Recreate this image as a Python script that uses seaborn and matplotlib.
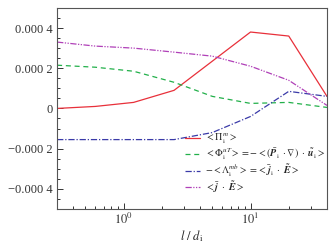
import numpy as np
import pandas as pd
import seaborn as sns
import matplotlib.pyplot as plt
from matplotlib.ticker import MultipleLocator, FixedLocator, FixedFormatter, LogLocator, NullFormatter

# scale l / d_i
scale = [0.3, 0.6, 1.2, 2.5, 5, 10, 20, 40]

# the four curves
pi_mm = [0.0, 1.0e-5, 3.0e-5, 9.0e-5, 2.35e-4, 3.8e-4, 3.6e-4, 6.0e-5]
phi_ut = [2.15e-4, 2.05e-4, 1.85e-4, 1.3e-4, 6.0e-5, 2.5e-5, 3.0e-5, 5.0e-6]
lam_mb = [-1.55e-4, -1.55e-4, -1.55e-4, -1.55e-4, -1.2e-4, -4.0e-5, 8.5e-5, 6.0e-5]
j_dot_e = [3.3e-4, 3.1e-4, 3.0e-4, 2.8e-4, 2.6e-4, 2.1e-4, 1.4e-4, 1.5e-5]

labels = [
    r'$<\Pi_{\rm i}^{m}>$',
    r'$<\Phi_{\rm i}^{uT}>=-<(\bar{\boldsymbol{P}}_{\rm i}\ \cdot\nabla)\ \cdot\ \tilde{\boldsymbol{u}}_{\rm i}>$',
    r'$-<\Lambda_{\rm i}^{mb}>=<\bar{\boldsymbol{j}}_{\rm i}\ \cdot\ \tilde{\boldsymbol{E}}>$',
    r'$<\bar{\boldsymbol{j}}\ \cdot\ \tilde{\boldsymbol{E}}>$',
]

ytick_vals = [-0.0004, -0.0002, 0, 0.0002, 0.0004]
ytick_labels = ['\u22120.000 4', '\u22120.000 2', '0', '0.000 2', '0.000 4']

sns.set_style('ticks')
plt.rcParams['font.family'] = ['Liberation Serif', 'DejaVu Serif']
plt.rcParams['mathtext.fontset'] = 'stix'

fig = plt.figure(figsize=(3.34, 2.47), dpi=100)
ax = fig.add_axes([0.171, 0.154, 0.808, 0.814])

series = [
    (pi_mm, '#e8303a', '-', 0.9),
    (phi_ut, '#22b04a', (0, (4, 3)), 0.9),
    (lam_mb, '#3a3aa8', (0, (5, 1.5, 1, 1.5)), 0.9),
    (j_dot_e, '#b040b8', (0, (5, 1.2, 1, 1.2, 1, 1.2)), 0.9),
]
for (vals, col, ls, lw), lab in zip(series, labels):
    sns.lineplot(x=scale, y=vals, ax=ax, color=col, linestyle=ls, linewidth=lw, label=lab)

ax.set_xscale('log')
ax.set_xlim(0.3, 40)
ax.set_ylim(-0.0005, 0.0005)

ax.yaxis.set_major_locator(FixedLocator(ytick_vals))
ax.yaxis.set_major_formatter(FixedFormatter(ytick_labels))
ax.yaxis.set_minor_locator(MultipleLocator(0.00005))
ax.xaxis.set_major_locator(FixedLocator([1, 10]))
ax.xaxis.set_major_formatter(FixedFormatter([r'$10^0$', r'$10^1$']))
ax.xaxis.set_minor_locator(LogLocator(base=10, subs=np.arange(2, 10)))
ax.xaxis.set_minor_formatter(NullFormatter())

ax.tick_params(which='both', direction='in', top=False, right=False, labelsize=9, colors='#333333', width=0.7)
ax.tick_params(which='major', length=4)
ax.tick_params(which='minor', length=2.5)
ax.tick_params(axis='x', which='major', pad=2)
for sp in ax.spines.values():
    sp.set_color('#555555')
    sp.set_linewidth(0.8)

ax.set_xlabel(r'$l\ /\ d_{\rm i}$', fontsize=9, labelpad=1)
ax.set_ylabel('')

leg = ax.legend(loc='lower right', bbox_to_anchor=(1.01, 0.05), frameon=False, fontsize=7.2,
                handlelength=1.5, handletextpad=0.5, labelspacing=0.0, borderaxespad=0.0)

fig.savefig('out.png', dpi=100)
